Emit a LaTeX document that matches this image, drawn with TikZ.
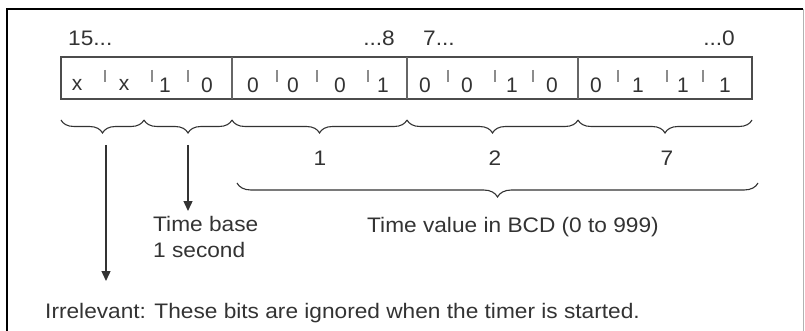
\documentclass[tikz,border=0pt]{standalone}
\usepackage{fontspec}
\setmainfont{Liberation Sans}
\newfontfamily\widesans[FakeStretch=1.08]{Liberation Sans}
\usetikzlibrary{arrows.meta,decorations.pathreplacing}
\definecolor{ink}{rgb}{0.2,0.2,0.2}
\definecolor{boxline}{rgb}{0.3,0.3,0.3}
\definecolor{tickc}{rgb}{0.55,0.55,0.55}
\begin{document}
\begin{tikzpicture}[x=1pt,y=-1pt,
  txt/.style={inner sep=0pt,text=ink,font=\widesans\fontsize{21}{25}\selectfont},
  bit/.style={inner sep=0pt,text=ink,font=\fontsize{21}{24}\selectfont},
  tickmark/.style={draw=tickc,line width=1.2pt},
  bracedown/.style={draw=ink,line width=1.1pt,decorate,decoration={brace,mirror,amplitude=#1}},
  arr/.style={draw=ink,line width=1.4pt,-{Triangle[length=10pt,width=9pt]}}]
\useasboundingbox (0,0) rectangle (805,331);
% frame
\draw[black,line width=2pt] (7,331) -- (7,9) -- (803,9);
\draw[gray!60,line width=1.2pt] (803.5,9) -- (803.5,331);
% register
\draw[boxline,line width=1.8pt] (61,57) rectangle (752,99);
\foreach \x in {232,407,578} \draw[gray!80!black,line width=1.3pt] (\x,57) -- (\x,99);
\foreach \x in {105,152,188, 277,317,368, 448,495,533, 618,667,703}
  \draw[tickmark] (\x,70) -- (\x,82);
\foreach \x/\d [count=\i] in {77/x,124/x,165/1,207/0, 253/0,293/0,340/0,383/1,
   425/0,467/0,512/1,552/0, 596/0,638/1,683/1,725/1}
  \node[bit] (b\i) at (\x,85) {\d};
% bit labels
\node[txt,anchor=west] (l15) at (68,38.5) {15...};
\node[txt,anchor=east] (l8) at (395,38.5) {...8};
\node[txt,anchor=west] (l7) at (423,38.5) {7...};
\node[txt,anchor=east] (l0) at (735,38.5) {...0};
% small braces
\coordinate (c0) at (61,120);
\coordinate (c1) at (144,120);
\coordinate (c2) at (232,120);
\coordinate (c3) at (407,120);
\coordinate (c4) at (578,120);
\coordinate (c5) at (752,120);
\draw[bracedown=13pt] (c0) -- (c1);
\draw[bracedown=13pt] (c1) -- (c2);
\draw[bracedown=13pt] (c2) -- (c3);
\draw[bracedown=13pt] (c3) -- (c4);
\draw[bracedown=13pt] (c4) -- (c5);
\node[txt] (n1) at (320,158) {1};
\node[txt] (n2) at (495,158) {2};
\node[txt] (n7) at (667,158) {7};
% big brace
\coordinate (bb0) at (237,183);
\coordinate (bb1) at (758,183);
\draw[bracedown=14pt] (bb0) -- (bb1);
\node[txt,anchor=west] (tv) at (367,227) {Time value in BCD (0 to 999)};
% arrows
\coordinate (a1s) at (106,145);
\coordinate (a2s) at (188,145);
\node[txt,anchor=north west,align=left] (tb) at (153,216) {Time base\\[1pt]1 second};
\node[txt,anchor=west] (irr) at (45,313) {Irrelevant: These bits are ignored when the timer is started.};
\coordinate (a1e) at (106,281);
\coordinate (a2e) at (188,211);
\draw[arr] (a1s) -- (a1e);
\draw[arr] (a2s) -- (a2e);
\end{tikzpicture}
\end{document}
